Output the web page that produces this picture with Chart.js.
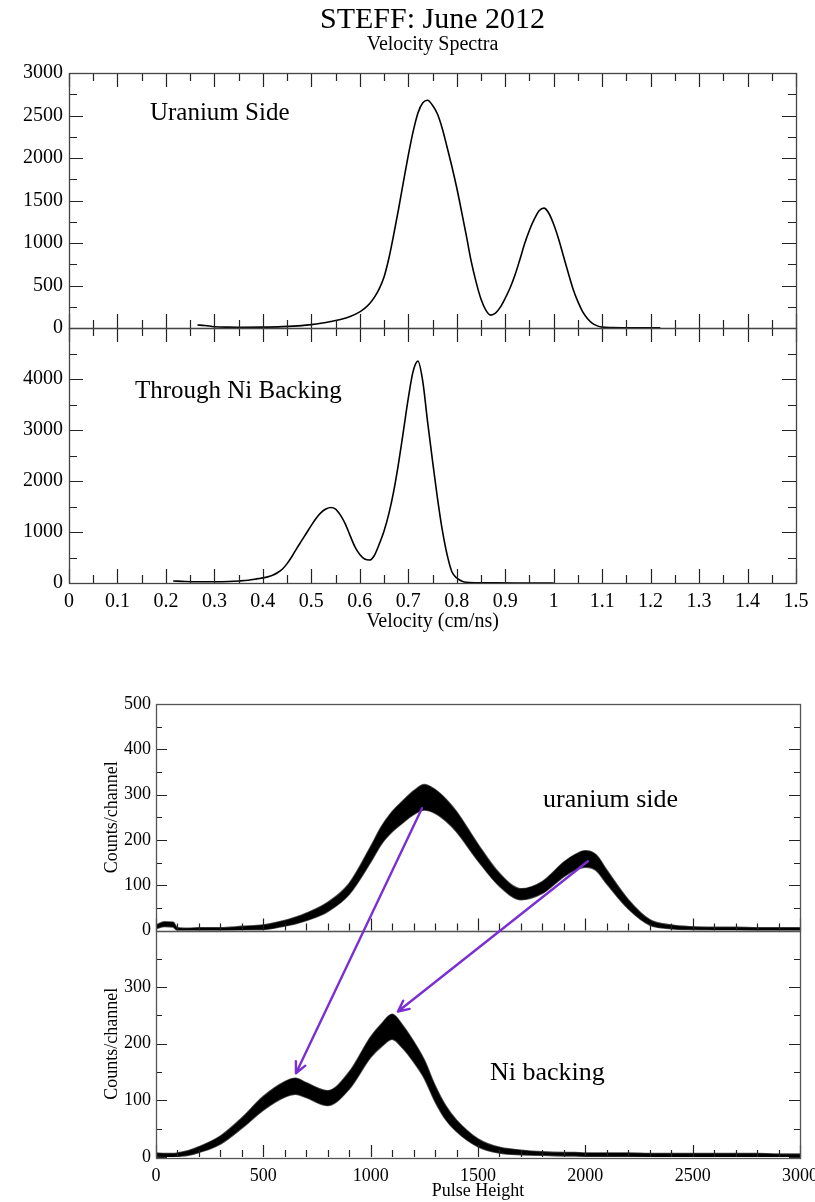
<!DOCTYPE html>
<html>
<head>
<meta charset="utf-8">
<script src="https://cdn.jsdelivr.net/npm/chart.js@4.4.1/dist/chart.umd.min.js"></script>
<style>
  html, body { margin: 0; padding: 0; background: #fff; }
  #wrap { position: relative; width: 815px; height: 1202px; overflow: hidden; }
  canvas { position: absolute; left: 0; }
  #velo { top: 0; }
  #pulse { top: 650px; }
</style>
</head>
<body>
<div id="wrap">
  <canvas id="velo" width="815" height="650"></canvas>
  <canvas id="pulse" width="815" height="552"></canvas>
</div>
<script>
// ---- Velocity spectra (counts vs velocity in cm/ns) ----
const velUranium = [0.265, 0.28, 0.30, 0.33, 0.36, 0.40, 0.44, 0.48, 0.50, 0.52, 0.54, 0.56, 0.58, 0.60, 0.61, 0.62, 0.63, 0.64, 0.65, 0.66, 0.67, 0.68, 0.69, 0.70, 0.71, 0.72, 0.73, 0.74, 0.75, 0.76, 0.77, 0.78, 0.79, 0.80, 0.81, 0.82, 0.83, 0.84, 0.85, 0.86, 0.87, 0.88, 0.89, 0.90, 0.91, 0.92, 0.93, 0.94, 0.95, 0.96, 0.97, 0.98, 0.99, 1.00, 1.01, 1.02, 1.03, 1.04, 1.05, 1.06, 1.07, 1.08, 1.09, 1.10, 1.12, 1.15, 1.18, 1.22];
const cntUranium = [35, 30, 15, 10, 8, 10, 16, 28, 40, 56, 76, 100, 135, 190, 230, 285, 360, 460, 600, 820, 1100, 1400, 1720, 2030, 2310, 2530, 2650, 2680, 2620, 2520, 2350, 2130, 1900, 1650, 1370, 1080, 780, 540, 340, 210, 152, 175, 245, 350, 470, 620, 800, 990, 1150, 1280, 1380, 1410, 1350, 1220, 1050, 850, 650, 460, 310, 190, 110, 55, 25, 10, 4, 2, 1, 1];

const velNickel = [0.215, 0.24, 0.27, 0.30, 0.33, 0.35, 0.37, 0.39, 0.40, 0.41, 0.42, 0.43, 0.44, 0.45, 0.46, 0.47, 0.48, 0.49, 0.50, 0.51, 0.52, 0.53, 0.54, 0.55, 0.56, 0.57, 0.58, 0.59, 0.60, 0.61, 0.62, 0.63, 0.64, 0.65, 0.66, 0.67, 0.68, 0.69, 0.70, 0.71, 0.72, 0.73, 0.74, 0.75, 0.76, 0.77, 0.78, 0.79, 0.80, 0.81, 0.82, 0.84, 0.88, 0.94, 1.00];
const cntNickel = [40, 30, 25, 25, 30, 40, 55, 85, 100, 120, 150, 200, 270, 380, 520, 680, 830, 980, 1130, 1270, 1380, 1450, 1480, 1450, 1330, 1160, 930, 710, 560, 470, 450, 540, 760, 1020, 1360, 1800, 2350, 2980, 3620, 4150, 4350, 3950, 3150, 2400, 1680, 1050, 560, 220, 100, 40, 12, 4, 2, 1, 1];

// ---- Pulse height spectra: channel grid and upper/lower edges of the noise band ----
const phChannel = [0, 40, 80, 100, 150, 200, 300, 400, 500, 600, 650, 700, 800, 900, 1000, 1050, 1100, 1150, 1200, 1250, 1300, 1350, 1400, 1500, 1600, 1700, 1800, 1900, 1950, 2000, 2050, 2100, 2200, 2300, 2400, 2500, 2600, 2700, 2800, 2900, 3000];
const phUraniumHigh = [12, 19, 18, 6, 5, 6, 6, 9, 12, 22, 29, 38, 62, 104, 185, 229, 262, 286, 308, 322, 311, 290, 262, 190, 126, 92, 108, 151, 167, 176, 167, 133, 68, 24, 12, 8, 7, 7, 6, 6, 6];
const phUraniumLow  = [4, 9, 8, 0, 0, 0, 0, 1, 2, 10, 15, 22, 42, 80, 151, 191, 218, 238, 256, 266, 259, 242, 218, 154, 98, 68, 82, 119, 133, 140, 133, 103, 48, 12, 4, 2, 1, 1, 0, 0, 0];
const phNickelHigh  = [7, 6, 6, 7, 11, 18, 37, 69, 107, 133, 139, 131, 117, 150, 212, 235, 252, 232, 204, 171, 126, 90, 65, 32, 17, 12, 9, 8, 8, 7, 7, 7, 7, 6, 6, 6, 6, 6, 6, 5, 5];
const phNickelLow   = [1, 0, 0, 1, 3, 8, 23, 51, 83, 106, 111, 105, 91, 120, 176, 195, 208, 192, 168, 139, 98, 66, 45, 18, 7, 4, 3, 2, 2, 1, 1, 1, 1, 0, 0, 0, 0, 0, 0, 0, 0];

const SERIF = "'Liberation Serif', 'Times New Roman', serif";
Chart.defaults.font.family = SERIF;
Chart.defaults.color = '#000';

const pairs = (xs, ys) => xs.map((x, i) => ({ x: x, y: ys[i] }));

function subdivide(vals, n) {
  const out = [];
  for (let i = 0; i < vals.length - 1; i++) {
    for (let k = 1; k < n; k++) out.push(vals[i] + (vals[i + 1] - vals[i]) * k / n);
  }
  return out;
}
const snap = v => Math.round(v) + 0.5;
const noEdgePadding = s => { s.paddingLeft = 0; s.paddingRight = 0; s.paddingTop = 0; s.paddingBottom = 0; };

// Frame and inward tick marks for each stacked panel
const axisFrame = {
  id: 'axisFrame',
  afterDatasetsDraw(chart, args, o) {
    const ctx = chart.ctx, xs = chart.scales.x;
    const xMajor = xs.ticks.map(t => t.value);
    const xMinor = subdivide(xMajor, o.xSub);
    ctx.save();
    for (const p of o.panels) {
      const ys = chart.scales[p.axis];
      const L = xs.left, R = xs.right, T = ys.top, B = ys.bottom;
      const yMajor = ys.ticks.map(t => t.value);
      const yMinor = subdivide(yMajor, o.ySub);
      ctx.strokeStyle = o.tickColor;
      ctx.lineWidth = o.tickWidth;
      ctx.beginPath();
      [[xMajor, o.xMajorLen], [xMinor, o.xMinorLen]].forEach(([vals, len]) => {
        vals.forEach(v => {
          const px = snap(xs.getPixelForValue(v));
          if (p.bottom) { ctx.moveTo(px, B); ctx.lineTo(px, B - len); }
          if (p.top) { ctx.moveTo(px, T); ctx.lineTo(px, T + len); }
        });
      });
      [[yMajor, o.yMajorLen], [yMinor, o.yMinorLen]].forEach(([vals, len]) => {
        vals.forEach(v => {
          const py = snap(ys.getPixelForValue(v));
          if (p.left) { ctx.moveTo(L, py); ctx.lineTo(L + len, py); }
          if (p.right) { ctx.moveTo(R, py); ctx.lineTo(R - len, py); }
        });
      });
      ctx.stroke();
      ctx.strokeStyle = o.frameColor;
      ctx.lineWidth = o.frameWidth;
      ctx.strokeRect(snap(L), snap(T), Math.round(R - L), Math.round(B - T));
    }
    ctx.restore();
  }
};

// Headings, in-panel captions and arrows placed through the chart scales
const notes = {
  id: 'notes',
  afterDraw(chart, args, o) {
    const ctx = chart.ctx, xs = chart.scales.x, ca = chart.chartArea;
    ctx.save();
    ctx.fillStyle = '#000';
    (o.headings || []).forEach(h => {
      ctx.font = h.size + 'px ' + SERIF;
      ctx.textAlign = 'center';
      ctx.textBaseline = 'alphabetic';
      ctx.fillText(h.text, (ca.left + ca.right) / 2, ca.top - h.above);
    });
    (o.captions || []).forEach(c => {
      const ys = chart.scales[c.axis];
      ctx.font = c.size + 'px ' + SERIF;
      ctx.textAlign = 'left';
      ctx.textBaseline = 'alphabetic';
      ctx.fillText(c.text, xs.getPixelForValue(c.x), ys.getPixelForValue(c.y));
    });
    (o.arrows || []).forEach(a => {
      const x0 = xs.getPixelForValue(a.x0), y0 = chart.scales[a.axis0].getPixelForValue(a.y0);
      const x1 = xs.getPixelForValue(a.x1), y1 = chart.scales[a.axis1].getPixelForValue(a.y1);
      const ang = Math.atan2(y1 - y0, x1 - x0);
      ctx.strokeStyle = a.color;
      ctx.lineWidth = a.width;
      ctx.lineCap = 'round';
      ctx.beginPath();
      ctx.moveTo(x0, y0);
      ctx.lineTo(x1, y1);
      [-0.45, 0.45].forEach(d => {
        ctx.moveTo(x1, y1);
        ctx.lineTo(x1 - a.head * Math.cos(ang + d), y1 - a.head * Math.sin(ang + d));
      });
      ctx.stroke();
    });
    ctx.restore();
  }
};

const plain = v => String(Number(v.toFixed(2)));

// ---------- Velocity spectra ----------
const velFont = { family: SERIF, size: 20 };
const velY = (max, step, hideTop) => ({
  type: 'linear', position: 'left', stack: 'vel', stackWeight: 1,
  min: 0, max: max,
  ticks: { stepSize: step, font: velFont, color: '#000', padding: 6, autoSkip: false, maxTicksLimit: 30,
           callback: v => (hideTop && v === max) ? '' : plain(v) },
  grid: { display: false, drawTicks: false },
  border: { display: false },
  afterFit: s => { s.width = 54; noEdgePadding(s); }
});

new Chart(document.getElementById('velo'), {
  type: 'line',
  data: {
    datasets: [
      { data: pairs(velUranium, cntUranium), yAxisID: 'yU' },
      { data: pairs(velNickel, cntNickel), yAxisID: 'yN' }
    ]
  },
  options: {
    responsive: false, animation: false, devicePixelRatio: 1,
    layout: { autoPadding: false, padding: { top: 73, left: 15, right: 19, bottom: 0 } },
    elements: {
      point: { radius: 0 },
      line: { borderColor: '#000', borderWidth: 1.6, cubicInterpolationMode: 'monotone', fill: false }
    },
    scales: {
      x: {
        type: 'linear', position: 'bottom', min: 0, max: 1.5,
        ticks: { stepSize: 0.1, font: velFont, color: '#000', padding: 7, maxRotation: 0, autoSkip: false, maxTicksLimit: 30, callback: plain },
        grid: { display: false, drawTicks: false },
        border: { display: false },
        title: { display: true, text: 'Velocity (cm/ns)', font: velFont, color: '#000', padding: { top: 0, bottom: 16 } },
        afterFit: s => { s.height = 67; noEdgePadding(s); }
      },
      yN: velY(5000, 1000, true),
      yU: velY(3000, 500, false)
    },
    plugins: {
      legend: { display: false },
      tooltip: { enabled: false },
      axisFrame: {
        panels: [
          { axis: 'yU', top: true, bottom: true, left: true, right: true },
          { axis: 'yN', top: true, bottom: true, left: true, right: true }
        ],
        xSub: 2, ySub: 2,
        xMajorLen: 14, xMinorLen: 8, yMajorLen: 14, yMinorLen: 8,
        tickColor: '#222', tickWidth: 1.2, frameColor: '#444', frameWidth: 1.3
      },
      notes: {
        headings: [
          { text: 'STEFF: June 2012', size: 30, above: 45 },
          { text: 'Velocity Spectra', size: 20, above: 23 }
        ],
        captions: [
          { text: 'Uranium Side', axis: 'yU', x: 0.167, y: 2445, size: 25 },
          { text: 'Through Ni Backing', axis: 'yN', x: 0.136, y: 3626, size: 25 }
        ]
      }
    }
  },
  plugins: [axisFrame, notes]
});

// ---------- Pulse height spectra ----------
const phFont = { family: SERIF, size: 18 };
const phY = (max, hideTop) => ({
  type: 'linear', position: 'left', stack: 'ph', stackWeight: 1,
  min: 0, max: max,
  ticks: { stepSize: 100, font: phFont, color: '#000', padding: 5, autoSkip: false, maxTicksLimit: 30,
           callback: v => (hideTop && v === max) ? '' : plain(v) },
  grid: { display: false, drawTicks: false },
  border: { display: false },
  title: { display: true, text: 'Counts/channel', font: phFont, color: '#000', padding: { top: 11, bottom: 0 } },
  afterFit: s => { s.width = 66; noEdgePadding(s); }
});
const band = (vals, axis, fill) => ({
  data: pairs(phChannel, vals), yAxisID: axis, fill: fill,
  borderColor: 'rgba(0,0,0,0.7)', backgroundColor: '#000', borderWidth: 1.6
});

new Chart(document.getElementById('pulse'), {
  type: 'line',
  data: {
    datasets: [
      band(phUraniumHigh, 'yU', false),
      band(phUraniumLow, 'yU', '-1'),
      band(phNickelHigh, 'yN', false),
      band(phNickelLow, 'yN', '-1')
    ]
  },
  options: {
    responsive: false, animation: false, devicePixelRatio: 1,
    layout: { autoPadding: false, padding: { top: 54, left: 90, right: 15, bottom: 0 } },
    elements: {
      point: { radius: 0 },
      line: { cubicInterpolationMode: 'monotone' }
    },
    scales: {
      x: {
        type: 'linear', position: 'bottom', min: 0, max: 3000,
        ticks: { stepSize: 500, font: phFont, color: '#000', padding: 8, maxRotation: 0, autoSkip: false, maxTicksLimit: 30, callback: plain },
        grid: { display: false, drawTicks: false },
        border: { display: false },
        title: { display: true, text: 'Pulse Height', font: phFont, color: '#000', padding: { top: 0, bottom: 0 } },
        afterFit: s => { s.height = 45; noEdgePadding(s); }
      },
      yN: phY(400, true),
      yU: phY(500, false)
    },
    plugins: {
      legend: { display: false },
      tooltip: { enabled: false },
      axisFrame: {
        panels: [
          { axis: 'yU', top: false, bottom: true, left: true, right: true },
          { axis: 'yN', top: false, bottom: true, left: true, right: true }
        ],
        xSub: 5, ySub: 2,
        xMajorLen: 12, xMinorLen: 7, yMajorLen: 11, yMinorLen: 6,
        tickColor: '#222', tickWidth: 1.2, frameColor: '#555', frameWidth: 1.3
      },
      notes: {
        captions: [
          { text: 'uranium side', axis: 'yU', x: 1803, y: 272, size: 26 },
          { text: 'Ni backing', axis: 'yN', x: 1556, y: 136, size: 26 }
        ],
        arrows: [
          { x0: 1239, y0: 270, axis0: 'yU', x1: 652, y1: 148, axis1: 'yN', color: '#7b2fd3', width: 2.4, head: 12 },
          { x0: 2012, y0: 153, axis0: 'yU', x1: 1127, y1: 257, axis1: 'yN', color: '#7b2fd3', width: 2.4, head: 12 }
        ]
      }
    }
  },
  plugins: [axisFrame, notes]
});
</script>
</body>
</html>
